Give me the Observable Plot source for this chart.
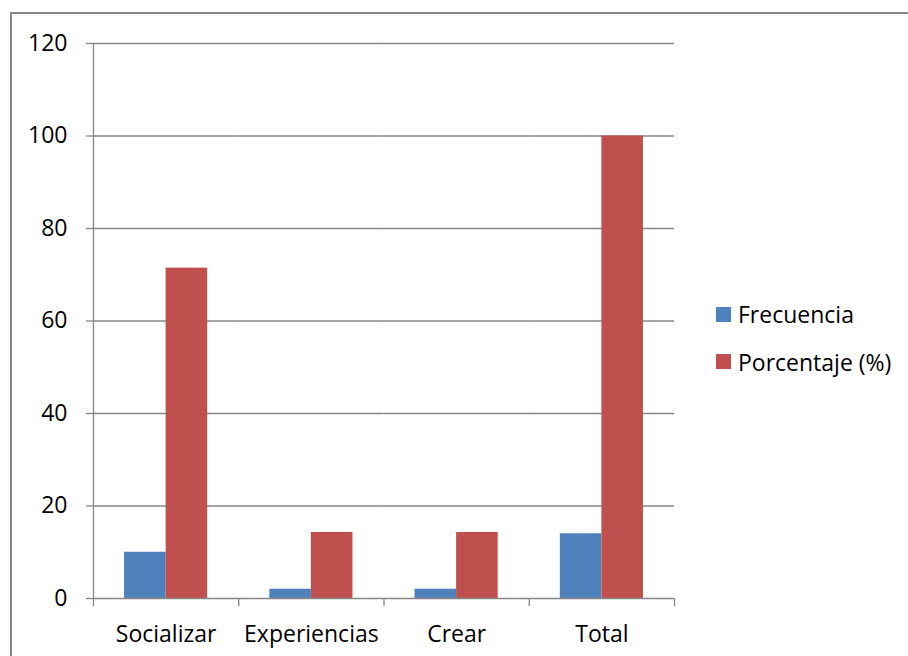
<!DOCTYPE html>
<html>
<head>
<meta charset="utf-8">
<script src="https://cdn.jsdelivr.net/npm/d3@7"></script>
<script src="https://cdn.jsdelivr.net/npm/@observablehq/plot@0.6"></script>
<style>
  body { margin: 0; background: #fff; }
  #wrap { position: relative; width: 908px; height: 656px; overflow: hidden; font-family: "Open Sans", sans-serif; }
  #border { position: absolute; left: 10px; top: 12px; width: 1200px; height: 1200px; border: 2px solid #878787; box-sizing: border-box; }
  #chart { position: absolute; left: 0; top: 0; }
  #legend { position: absolute; left: 716px; top: 298px; }
  .row { display: flex; align-items: center; height: 32px; margin-bottom: 15.5px; font-size: 23px; line-height: 32px; color: #000; }
  .sw { width: 15px; height: 15px; margin-right: 7px; }
</style>
</head>
<body>
<div id="wrap">
  <div id="border"></div>
  <div id="chart"></div>
  <div id="legend"></div>
</div>
<script>
// Categories and the two series shown for each
const categories = ["Socializar", "Experiencias", "Crear", "Total"];
const seriesNames = ["Frecuencia", "Porcentaje (%)"];
const frecuencia = [10, 2, 2, 14];
const porcentaje = [71.43, 14.29, 14.29, 100];
const yTicks = [0, 20, 40, 60, 80, 100, 120];
const colors = ["#4F81BD", "#C0504D"];

const rows = categories.flatMap((c, i) => [
  {category: c, series: seriesNames[0], value: frecuencia[i]},
  {category: c, series: seriesNames[1], value: porcentaje[i]}
]);

const gridColor = "#868686";

const chart = Plot.plot({
  width: 908,
  height: 656,
  marginLeft: 93,
  marginRight: 234,
  marginTop: 43,
  marginBottom: 58,
  style: {fontFamily: "Open Sans", fontSize: "23px", color: "#000", background: "transparent"},
  fx: {domain: categories, padding: 0, round: false, axis: null},
  x: {domain: seriesNames, paddingInner: 0, paddingOuter: 0.747, round: false, axis: null},
  y: {domain: [0, 120], axis: null},
  color: {domain: seriesNames, range: colors},
  marks: [
    Plot.ruleY(yTicks.filter(t => t > 0), {stroke: gridColor, strokeWidth: 1.3}),
    Plot.barY(rows, {fx: "category", x: "series", y: "value", fill: "series"}),
    Plot.ruleY([0], {stroke: gridColor, strokeWidth: 1.3}),
    Plot.axisY({ticks: yTicks, tickSize: 7, tickPadding: 19, stroke: gridColor, strokeOpacity: 1, strokeWidth: 1.3, fill: "#000", fontSize: 23, label: null}),
    Plot.axisFx({anchor: "bottom", tickSize: 0, tickPadding: 27, fill: "#000", fontSize: 23, label: null})
  ]
});

// Category boundary ticks and the vertical axis line, placed with the chart's own scales
const fx = chart.scale("fx");
const y = chart.scale("y");
const y0 = y.apply(0);
const bounds = categories.map(c => fx.apply(c)).concat([fx.apply(categories[categories.length - 1]) + fx.bandwidth]);
const svg = d3.select(chart);
const g = svg.append("g").attr("stroke", gridColor).attr("stroke-width", 1.3);
g.append("line")
  .attr("x1", bounds[0] + 0.5).attr("x2", bounds[0] + 0.5)
  .attr("y1", y.apply(120)).attr("y2", y0 + 0.5);
g.selectAll("line.tick").data(bounds).join("line")
  .attr("class", "tick")
  .attr("x1", d => d + 0.5).attr("x2", d => d + 0.5)
  .attr("y1", y0).attr("y2", y0 + 8);

document.getElementById("chart").appendChild(chart);

// Legend built from the chart's color scale
const color = chart.scale("color");
const legend = d3.select("#legend");
seriesNames.forEach(s => {
  const row = legend.append("div").attr("class", "row");
  row.append("div").attr("class", "sw").style("background", color.apply(s));
  row.append("span").text(s);
});
</script>
</body>
</html>
